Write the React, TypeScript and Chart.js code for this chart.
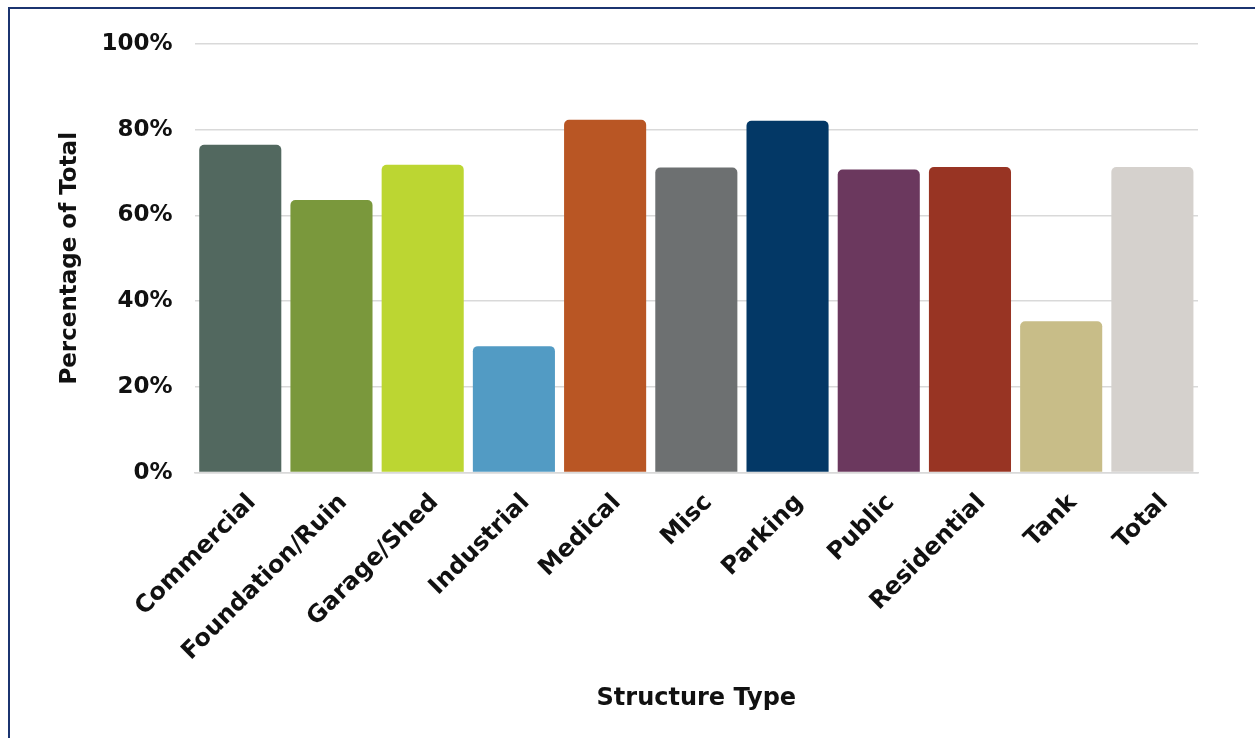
import React, { useEffect, useRef } from "react";
import { Chart, registerables } from "chart.js";

Chart.register(...registerables);

// Share of each structure type, in percent
const categories = [
  "Commercial",
  "Foundation/Ruin",
  "Garage/Shed",
  "Industrial",
  "Medical",
  "Misc",
  "Parking",
  "Public",
  "Residential",
  "Tank",
  "Total",
];

const percentages = [76.5, 63.6, 71.8, 29.5, 82.3, 71.2, 82.1, 70.7, 71.3, 35.3, 71.3];

const barColors = [
  "#52685F",
  "#7A983C",
  "#BCD632",
  "#529BC4",
  "#B95624",
  "#6D7071",
  "#033866",
  "#6B385E",
  "#983423",
  "#C8BD88",
  "#D5D1CD",
];

const yTickValues = [0, 20, 40, 60, 80, 100];

const FONT = "'DejaVu Sans', sans-serif";
const INK = "#111111";

export default function App() {
  const canvasRef = useRef<HTMLCanvasElement | null>(null);

  useEffect(() => {
    const canvas = canvasRef.current;
    if (!canvas) return;
    const chart = new Chart(canvas, {
      type: "bar",
      data: {
        labels: categories,
        datasets: [
          {
            data: percentages,
            backgroundColor: barColors,
            borderRadius: 5,
            borderSkipped: "start",
            barPercentage: 0.9,
            categoryPercentage: 1,
          },
        ],
      },
      options: {
        animation: false,
        responsive: true,
        maintainAspectRatio: false,
        layout: { padding: { left: 56, right: 57, top: 44, bottom: 25 } },
        plugins: {
          legend: { display: false },
          tooltip: { enabled: false },
        },
        scales: {
          x: {
            grid: { display: false, drawTicks: false },
            border: { display: true, color: "#D9D9D9", width: 1.5 },
            ticks: {
              color: INK,
              font: { family: FONT, size: 24, weight: "bold" },
              minRotation: 45,
              maxRotation: 45,
              padding: 16,
              labelOffset: 12,
            },
            // rotated labels may hang past the left edge of the plot
            afterFit: (scale) => {
              scale.paddingLeft = 0;
            },
            title: {
              display: true,
              text: "Structure Type",
              color: INK,
              font: { family: FONT, size: 24, weight: "bold" },
              padding: { top: 2, bottom: 0 },
            },
          },
          y: {
            min: 0,
            max: 100,
            afterBuildTicks: (axis) => {
              axis.ticks = yTickValues.map((v) => ({ value: v }));
            },
            grid: { color: "#D9D9D9", lineWidth: 1.5, drawTicks: false },
            border: { display: false },
            ticks: {
              color: INK,
              font: { family: FONT, size: 23, weight: "bold" },
              padding: 22,
              callback: (v) => `${v}%`,
            },
            title: {
              display: true,
              text: "Percentage of Total",
              color: INK,
              font: { family: FONT, size: 23, weight: "bold" },
              padding: { top: 0, bottom: -4 },
            },
          },
        },
      },
    });
    return () => chart.destroy();
  }, []);

  return (
    <div
      style={{
        position: "fixed",
        left: 0,
        top: 0,
        width: 1255,
        height: 738,
        overflow: "hidden",
        background: "#ffffff",
      }}
    >
      <div
        style={{
          position: "absolute",
          left: 8,
          top: 7,
          width: 2000,
          height: 2000,
          borderLeft: "2px solid #1B3470",
          borderTop: "2px solid #1B3470",
        }}
      />
      <div style={{ position: "absolute", left: 0, top: 0, width: 1255, height: 738 }}>
        <canvas ref={canvasRef} />
      </div>
    </div>
  );
}
